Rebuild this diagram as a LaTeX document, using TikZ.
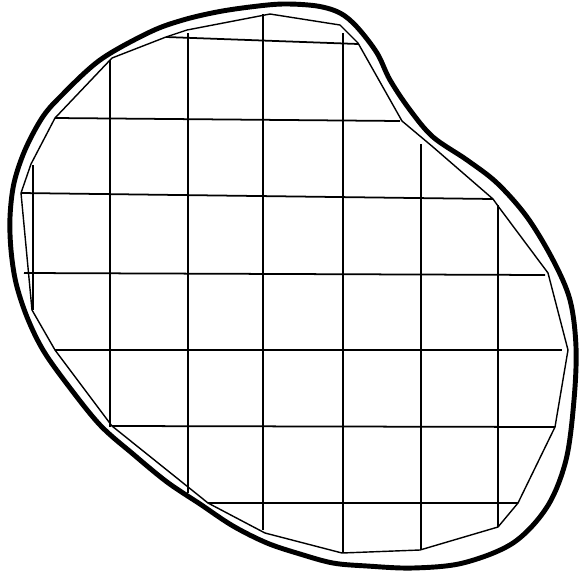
\documentclass[tikz,border=0pt]{standalone}
\usepackage{tikz}

\begin{document}
\begin{tikzpicture}[x=0.03cm, y=-0.03cm,
    outline/.style = {line width=4.2pt, line join=round},
    mesh/.style = {line width=1.2pt, line join=miter},
    gridline/.style = {line width=1.5pt}
    ]
    \useasboundingbox (0,0) rectangle (579,574);
    % outer boundary
    \draw[outline] plot[smooth cycle, tension=0.55] coordinates {
        (250,7) (283,4) (317,6) (340,13) (357,27) (377,53) (390,80)
        (410,110) (433,137) (467,160) (497,183) (527,217) (553,260)
        (570,300) (576,347) (574,400) (566,460) (547,507) (513,543)
        (463,563) (413,568) (367,566) (333,563) (300,554) (267,543)
        (233,526) (200,504) (167,482) (133,454) (100,425) (67,384)
        (43,350) (27,317) (16,283) (11,250) (10,217) (14,183) (25,150)
        (42,118) (60,97) (100,60) (150,32) (183,20) (217,12)};
    % polygonal approximation
    \draw[mesh] (270,14) -- (340,25) -- (358,43) -- (402,121) -- (433,147)
        -- (493,199) -- (498,206) -- (548,273) -- (568,350) -- (555,427)
        -- (518,503) -- (498,527) -- (420,550) -- (342,553) -- (265,533)
        -- (208,503) -- (112,426) -- (55,350) -- (32,310) -- (21,193)
        -- (31,164) -- (55,118) -- (112,58) -- (166,37) -- (187,30) -- cycle;
    % vertical grid lines
    \foreach \x/\ya/\yb in {33/165/310, 110/60/427, 188/33/493, 263/14/530,
                            343/33/553, 421/144/550, 498/205/527}
        \draw[gridline] (\x,\ya) -- (\x,\yb);
    % horizontal grid lines
    \foreach \xa/\ya/\xb/\yb in {166/37/358/44, 55/118/400/121,
                                 21/193/493/199, 24/273/545/275,
                                 55/350/562/350, 112/426/555/427,
                                 208/503/518/503}
        \draw[gridline] (\xa,\ya) -- (\xb,\yb);
\end{tikzpicture}
\end{document}
